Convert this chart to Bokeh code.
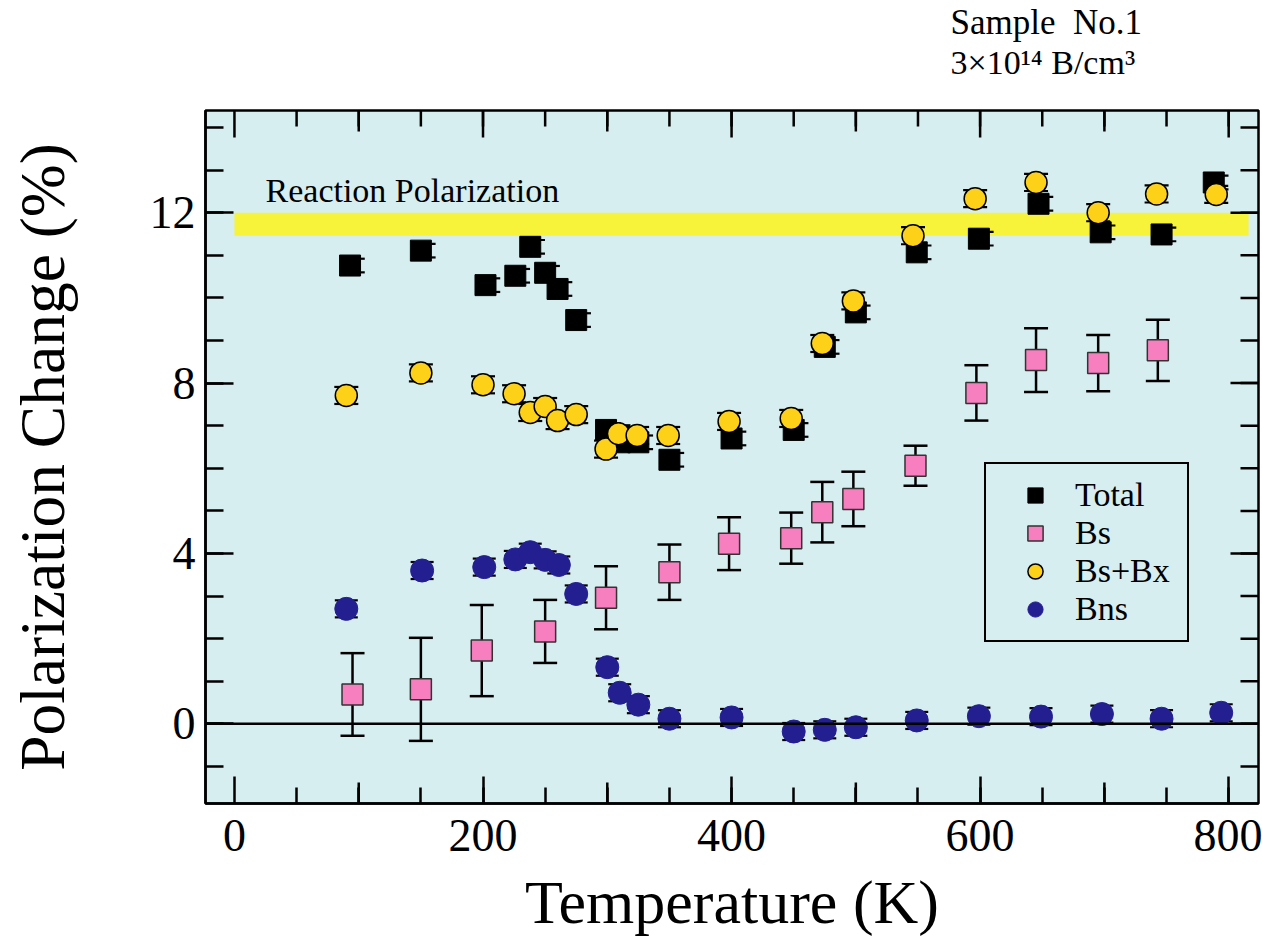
import math
from bokeh.plotting import figure
from bokeh.models import (Range1d, FixedTicker, LinearAxis, Span, BoxAnnotation, Label, Title,
                          Whisker, ColumnDataSource, TeeHead, Legend, LegendItem)
from bokeh.embed import file_html
from bokeh.resources import INLINE

# ---------------- data ----------------
total_T = [93, 150, 202, 226, 238, 250, 260, 275, 299, 310, 325, 350, 400, 450, 475, 500, 549, 599, 647, 697, 746, 788]
total_v = [10.76, 11.11, 10.30, 10.52, 11.20, 10.59, 10.21, 9.48, 6.90, 6.61, 6.61, 6.20, 6.70, 6.90, 8.85, 9.66,
           11.07, 11.39, 12.21, 11.54, 11.49, 12.71]
total_err = [0.16, 0.16, 0.16, 0.16, 0.16, 0.16, 0.16, 0.16, 0.16, 0.16, 0.16, 0.16, 0.16, 0.16, 0.16, 0.16,
             0.16, 0.16, 0.16, 0.16, 0.16, 0.16]

bs_T = [95, 150, 199, 250, 299, 350, 398, 448, 473, 498, 548, 597, 645, 695, 743]
bs_v = [0.69, 0.81, 1.72, 2.17, 2.96, 3.56, 4.23, 4.36, 4.97, 5.28, 6.06, 7.77, 8.54, 8.47, 8.77]
bs_err = [0.97, 1.21, 1.07, 0.74, 0.74, 0.65, 0.62, 0.60, 0.71, 0.64, 0.47, 0.65, 0.75, 0.66, 0.72]

bsbx_T = [90, 150, 200, 225, 238, 250, 260, 275, 299, 309, 324, 349, 398, 448, 473, 498, 546, 596, 645, 695, 742, 790]
bsbx_v = [7.71, 8.24, 7.96, 7.75, 7.31, 7.45, 7.12, 7.26, 6.45, 6.81, 6.77, 6.77, 7.10, 7.17, 8.93, 9.93,
          11.46, 12.33, 12.71, 12.00, 12.44, 12.43]
bsbx_err = [0.2, 0.2, 0.2, 0.2, 0.2, 0.2, 0.2, 0.2, 0.2, 0.2, 0.2, 0.2, 0.2, 0.2, 0.2, 0.2,
            0.2, 0.2, 0.2, 0.2, 0.2, 0.2]

bns_T = [90, 151, 201, 226, 238, 250, 261, 275, 300, 310, 325, 350, 400, 450, 475, 500, 549, 599, 649, 698, 746, 794]
bns_v = [2.70, 3.60, 3.68, 3.86, 4.03, 3.85, 3.73, 3.05, 1.33, 0.73, 0.45, 0.12, 0.15, -0.18, -0.14, -0.08,
         0.08, 0.18, 0.17, 0.23, 0.12, 0.26]
bns_err = [0.2, 0.2, 0.2, 0.2, 0.2, 0.2, 0.2, 0.2, 0.2, 0.2, 0.2, 0.2, 0.2, 0.2, 0.2, 0.2,
           0.2, 0.2, 0.2, 0.2, 0.2, 0.2]

reaction_band = [11.46, 12.0]      # reaction polarization band (bottom, top)
reaction_span = [0, 816]           # temperature extent of the band

x_major = [0, 200, 400, 600, 800]
x_mid = [100, 300, 500, 700]
x_minor = [50, 100, 150, 200, 250, 300, 350, 400, 450, 500, 550, 600, 650, 700, 750, 800]
y_major = [0, 4, 8, 12]
y_minor = [-1, 0, 1, 2, 3, 4, 5, 6, 7, 8, 9, 10, 11, 12, 13, 14]

sample_line1 = "Sample\u00a0 No.1"
sample_line2 = "3×10¹⁴ B/cm³"

FONT = "Liberation Serif"
BG = "#D6EEF0"
X0, X1 = -23.3, 824
Y0, Y1 = -1.87, 14.4

p = figure(width=1262, height=944, x_range=Range1d(X0, X1), y_range=Range1d(Y0, Y1),
           output_backend="svg", toolbar_location=None,
           x_axis_location=None, y_axis_location=None,
           min_border_left=205, min_border_right=4, min_border_top=110, min_border_bottom=141)
p.background_fill_color = BG
p.border_fill_color = "white"
p.outline_line_color = "black"
p.outline_line_width = 2.5
p.grid.grid_line_color = None


def style_axis(ax, tick_in, minor_in, title_size):
    ax.axis_line_width = 2.5
    ax.axis_line_color = "black"
    ax.major_tick_line_width = 2.5
    ax.minor_tick_line_width = 2.5
    ax.major_tick_in = tick_in
    ax.major_tick_out = 0
    ax.minor_tick_in = minor_in
    ax.minor_tick_out = 0
    ax.major_label_text_font = FONT
    ax.major_label_text_font_size = "46px"
    ax.major_label_text_color = "black"
    ax.axis_label_text_font = FONT
    ax.axis_label_text_font_size = title_size
    ax.axis_label_text_font_style = "normal"
    ax.axis_label_text_color = "black"


xb = LinearAxis(ticker=FixedTicker(ticks=x_major, minor_ticks=x_minor), axis_label="Temperature (K)")
style_axis(xb, 27, 16, "62px")
xb.major_label_standoff = 16
xb.axis_label_standoff = 14
p.add_layout(xb, "below")

yl = LinearAxis(ticker=FixedTicker(ticks=y_major, minor_ticks=y_minor), axis_label="Polarization Change (%)")
style_axis(yl, 28, 18, "63.5px")
yl.major_label_standoff = 10
yl.axis_label_standoff = 69
p.add_layout(yl, "left")


def edge_ticks(xs, ys, length, angle):
    p.ray(x=xs, y=ys, length=length, length_units="screen", angle=angle,
          line_width=2.5, line_color="black")


# medium ticks at the odd hundreds (bottom)
edge_ticks(x_mid, [Y0] * len(x_mid), 21, math.pi / 2)
# mirrored ticks on the top edge
edge_ticks(x_major, [Y1] * len(x_major), 27, -math.pi / 2)
edge_ticks(x_mid, [Y1] * len(x_mid), 21, -math.pi / 2)
edge_ticks(x_minor, [Y1] * len(x_minor), 16, -math.pi / 2)
# mirrored ticks on the right edge
edge_ticks([X1] * len(y_major), y_major, 28, math.pi)
edge_ticks([X1] * len(y_minor), y_minor, 18, math.pi)

# reaction polarization band
p.add_layout(BoxAnnotation(left=reaction_span[0], right=reaction_span[1],
                           bottom=reaction_band[0], top=reaction_band[1],
                           fill_color="#F7F23A", fill_alpha=1.0, line_alpha=0, level="underlay"))
p.add_layout(Span(location=0, dimension="width", line_color="black", line_width=2.5))

p.add_layout(Label(x=25, y=12.52, text="Reaction Polarization", text_font=FONT,
                   text_font_size="34px", text_baseline="alphabetic", text_color="black"))


def whisk(xs, ys, es, size, width, color="black"):
    src = ColumnDataSource(dict(base=xs, lower=[y - e for y, e in zip(ys, es)],
                                upper=[y + e for y, e in zip(ys, es)]))
    w = Whisker(source=src, base="base", lower="lower", upper="upper", dimension="height",
                line_width=width, line_color=color,
                upper_head=TeeHead(size=size, line_width=width, line_color=color),
                lower_head=TeeHead(size=size, line_width=width, line_color=color))
    p.add_layout(w)


# Bs
whisk(bs_T, bs_v, bs_err, 24, 2.5)
r_bs = p.scatter(bs_T, bs_v, marker="square", size=21, fill_color="#F77FBF",
                 line_color="#333333", line_width=1.5)
# Total
whisk([t + 3 for t in total_T], total_v, total_err, 22, 2.2)
r_total = p.scatter(total_T, total_v, marker="square", size=21, fill_color="black", line_color="black")
# Bs+Bx
whisk(bsbx_T, bsbx_v, bsbx_err, 24, 2.2)
r_bsbx = p.scatter(bsbx_T, bsbx_v, marker="circle", size=22, fill_color="#FDD117",
                   line_color="black", line_width=1.5)
# Bns
whisk(bns_T, bns_v, bns_err, 23, 2.2)
r_bns = p.scatter(bns_T, bns_v, marker="circle", size=23, fill_color="#231F91",
                  line_color="#231F91", line_width=1)

legend = Legend(items=[LegendItem(label="Total", renderers=[r_total]),
                       LegendItem(label="Bs", renderers=[r_bs]),
                       LegendItem(label="Bs+Bx", renderers=[r_bsbx]),
                       LegendItem(label="Bns", renderers=[r_bns])],
                location=(779, 161), border_line_color="black", border_line_width=2.5,
                border_line_alpha=1.0,
                background_fill_alpha=0, label_text_font=FONT, label_text_font_size="34px",
                label_text_color="black",
                glyph_width=74, glyph_height=38, label_standoff=3, label_width=100,
                padding=12, spacing=0, margin=0)
p.add_layout(legend)

# sample annotation (top right, outside the frame)
t2 = Title(text=sample_line2, align="left", offset=745, text_font=FONT, text_font_size="34px",
           text_font_style="normal", text_color="black", standoff=60)
p.add_layout(t2, "above")
t1 = Title(text=sample_line1, align="left", offset=745, text_font=FONT, text_font_size="35px",
           text_font_style="normal", text_color="black", standoff=-60)
p.add_layout(t1, "above")

open("out.html", "w").write(file_html(p, INLINE))
